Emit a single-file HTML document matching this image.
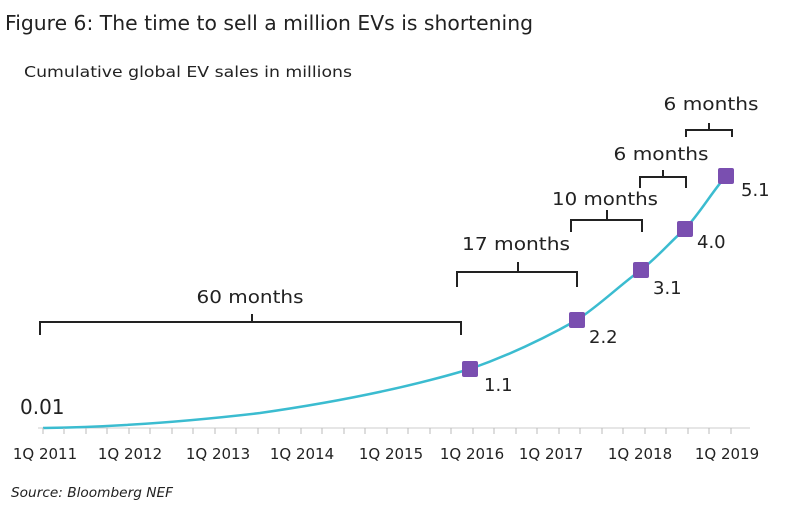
<!DOCTYPE html><html><head><style>body{margin:0;background:#fff}svg{display:block}text{font-family:"DejaVu Sans","Liberation Sans",sans-serif;fill:#222}</style></head><body>
<svg width="793" height="507" viewBox="0 0 793 507">
<text x="5" y="30" font-size="20" textLength="528" lengthAdjust="spacingAndGlyphs">Figure 6: The time to sell a million EVs is shortening</text>
<text x="24" y="77" font-size="15.5" textLength="328" lengthAdjust="spacingAndGlyphs">Cumulative global EV sales in millions</text>
<line x1="38" y1="428" x2="750" y2="428" stroke="#ccc" stroke-width="1"/>
<path d="M43,428 C120,427 200,420 260,413 C330,403 400,390 470,369 C510,355 545,338 577,320 C600,305 620,285 641,270 C660,255 670,242 685,229 C700,213 712,192 726,176" fill="none" stroke="#3bbcd0" stroke-width="2.5"/>
<g fill="#7a4fb0"><rect x="462" y="361" width="16" height="16" rx="2"/><rect x="569" y="312" width="16" height="16" rx="2"/><rect x="633" y="262" width="16" height="16" rx="2"/><rect x="677" y="221" width="16" height="16" rx="2"/><rect x="718" y="168" width="16" height="16" rx="2"/></g>
<g font-size="18"><text x="484" y="391">1.1</text><text x="589" y="343">2.2</text><text x="653" y="294">3.1</text><text x="697" y="248">4.0</text><text x="741" y="196">5.1</text><text x="20" y="414" font-size="20">0.01</text></g>
<g fill="none" stroke="#222" stroke-width="2">
<path d="M40,335 V322 H461 V335 M252,322 V314"/>
<path d="M457,287 V272 H577 V287 M518,272 V262"/>
<path d="M571,232 V220 H642 V232 M607,220 V210"/>
<path d="M640,188 V177 H686 V188 M663,177 V170"/>
<path d="M686,137 V130 H732 V137 M709,130 V123"/>
</g>
<g font-size="18" text-anchor="middle"><text x="250" y="303" textLength="107" lengthAdjust="spacingAndGlyphs">60 months</text><text x="516" y="250" textLength="108" lengthAdjust="spacingAndGlyphs">17 months</text><text x="605" y="205" textLength="106" lengthAdjust="spacingAndGlyphs">10 months</text><text x="661" y="160" textLength="95" lengthAdjust="spacingAndGlyphs">6 months</text><text x="711" y="110" textLength="95" lengthAdjust="spacingAndGlyphs">6 months</text></g>
<g font-size="15" text-anchor="middle"><text x="45" y="459">1Q 2011</text><text x="130" y="459">1Q 2012</text><text x="218" y="459">1Q 2013</text><text x="302" y="459">1Q 2014</text><text x="391" y="459">1Q 2015</text><text x="472" y="459">1Q 2016</text><text x="551" y="459">1Q 2017</text><text x="640" y="459">1Q 2018</text><text x="727" y="459">1Q 2019</text></g>
<text x="11" y="497" font-size="13" font-style="italic" textLength="162" lengthAdjust="spacingAndGlyphs">Source: Bloomberg NEF</text>
<g stroke="#bbb" stroke-width="1">
<path d="M43,428v6M64,428v6M86,428v6M107,428v6M129,428v6M150,428v6M172,428v6M193,428v6M215,428v6M236,428v6M258,428v6M279,428v6M301,428v6M322,428v6M344,428v6M365,428v6M387,428v6M408,428v6M430,428v6M451,428v6M473,428v6M494,428v6M516,428v6M537,428v6M559,428v6M580,428v6M602,428v6M623,428v6M645,428v6M666,428v6M688,428v6M709,428v6M731,428v6"/>
</g>
</svg></body></html>
